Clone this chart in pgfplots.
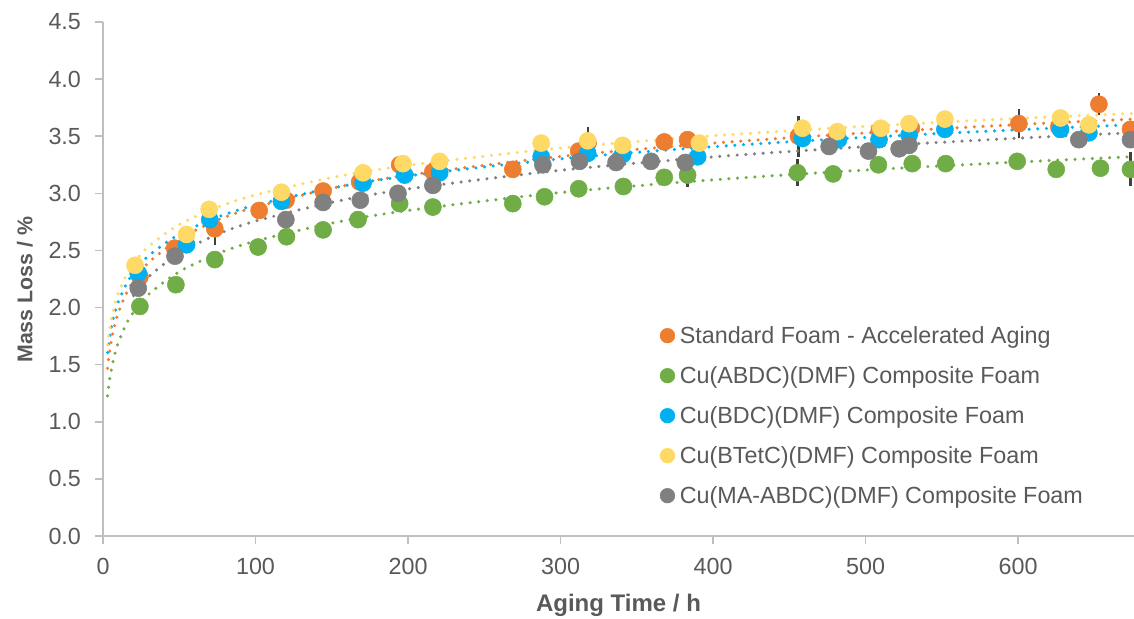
\documentclass[border=0pt]{standalone}
\usepackage{fontspec}
\setmainfont{Liberation Sans}
\usepackage{pgfplots}
\pgfplotsset{compat=1.18}
\definecolor{cOr}{HTML}{ED7D31}
\definecolor{cGr}{HTML}{70AD47}
\definecolor{cBl}{HTML}{00B0F0}
\definecolor{cYe}{HTML}{FFD966}
\definecolor{cGy}{HTML}{808080}
\definecolor{cAx}{HTML}{BFBFBF}
\definecolor{cTx}{HTML}{595959}
\definecolor{cEr}{HTML}{404040}
\begin{document}
\begin{tikzpicture}
\useasboundingbox (0,0) rectangle (850.5pt,463.5pt);
\begin{axis}[
  scale only axis, width=773.25pt, height=385.5pt,
  at={(77.25pt,61.5pt)}, anchor=south west,
  xmin=0, xmax=676, ymin=0, ymax=4.5,
  xtick={0,100,200,300,400,500,600},
  ytick={0,0.5,1,1.5,2,2.5,3,3.5,4,4.5},
  /pgf/number format/assume math mode=true,
  yticklabel style={/pgf/number format/.cd, fixed, fixed zerofill, precision=1, /tikz/.cd, xshift=-7pt},
  xticklabel style={/pgf/number format/.cd, fixed, precision=0, /tikz/.cd, yshift=-7pt},
  ticklabel style={font=\fontsize{17.5}{20}\selectfont, text=cTx},
  axis x line*=bottom, axis y line*=left,
  axis line style={draw=cAx, line width=1.5pt, -},
  tick align=outside, major tick length=6pt,
  tick style={draw=cAx, line width=1.2pt},
  xlabel={Aging Time / h}, ylabel={Mass Loss / \%},
  xlabel style={font=\fontsize{18}{21}\selectfont\bfseries, text=cTx, at={(axis description cs:0.5,-0.134)}, anchor=center},
  ylabel style={font=\fontsize{16}{19}\selectfont\bfseries, text=cTx, at={(axis description cs:-0.0757,0.479)}, anchor=center},
  legend style={draw=none, fill=none, at={(0.536,0.411)}, anchor=north west,
    font=\fontsize{17.5}{20}\selectfont, text=cTx,
    nodes={inner sep=0pt, text height=12pt, text depth=3pt},
    row sep=15pt,
    /tikz/every odd column/.append style={column sep=3.5pt}},
  legend cell align=left,
  legend image code/.code={\fill[#1] (5.5pt,1.5pt) circle (5.5pt);},
]
% error bars (drawn first)
\addplot[draw=none, forget plot, error bars/.cd, y dir=both, y explicit,
  error mark=-,
  error bar style={draw=cEr, line width=1.5pt},
  error mark options={draw=cEr, line width=1.8pt, mark size=5pt}]
  table[x=x, y=y, y error=e] {
x y e
73.3 2.69 0.08
216.3 3.19 0.03
318 3.44 0.08
456 3.50 0.12
600.5 3.61 0.07
653 3.78 0.04
673.7 3.21 0.09
383.3 3.16 0.05
455.3 3.18 0.06
};
% markers
\addplot[only marks, mark=*, mark size=6.4pt, color=cOr] table {
x y
24.2 2.27
47 2.52
73.3 2.69
102.4 2.85
120 2.94
144.3 3.02
168.3 3.10
194.5 3.25
216.3 3.19
268.7 3.21
311.9 3.37
318 3.44
368 3.45
383.3 3.47
456 3.50
481 3.50
509 3.55
530 3.57
600.5 3.61
626.7 3.58
653 3.78
673.7 3.56
};
\addlegendentry{Standard Foam - Accelerated Aging}
\addplot[only marks, mark=*, mark size=6.4pt, color=cGr] table {
x y
24.2 2.01
47.8 2.20
73.3 2.42
101.7 2.53
120.3 2.62
144.3 2.68
167.2 2.77
194.5 2.91
216.3 2.88
268.7 2.91
289.5 2.97
311.9 3.04
341.2 3.06
368 3.14
383.3 3.16
455.3 3.18
478.7 3.17
508.4 3.25
530.6 3.26
552.5 3.26
599.4 3.28
625 3.21
654 3.22
673.7 3.21
};
\addlegendentry{Cu(ABDC)(DMF) Composite Foam}
\addplot[only marks, mark=*, mark size=6.4pt, color=cBl] table {
x y
23.1 2.30
54.8 2.55
70 2.77
117 2.93
170.5 3.09
197.8 3.16
220.7 3.18
287.3 3.32
317.8 3.35
340.7 3.34
389.9 3.32
458.6 3.48
482.2 3.47
508.8 3.47
528.5 3.51
552 3.56
627.8 3.56
646.4 3.53
};
\addlegendentry{Cu(BDC)(DMF) Composite Foam}
\addplot[only marks, mark=*, mark size=6.4pt, color=cYe] table {
x y
21 2.37
54.8 2.64
69.6 2.86
117 3.01
170.5 3.18
196.7 3.26
220.7 3.28
287.3 3.44
317.8 3.46
340.7 3.42
391 3.44
458.6 3.57
481.5 3.54
510 3.57
528.5 3.61
552 3.65
627.8 3.66
646.4 3.60
};
\addlegendentry{Cu(BTetC)(DMF) Composite Foam}
\addplot[only marks, mark=*, mark size=6.4pt, color=cGy] table {
x y
23.1 2.17
47.2 2.45
119.9 2.77
144.3 2.92
168.7 2.94
193.4 3.00
216.3 3.07
288.4 3.25
312.4 3.28
336.4 3.27
359.3 3.28
381.8 3.27
476.1 3.41
501.9 3.37
522 3.39
528.5 3.42
639.8 3.47
673.7 3.47
};
\addlegendentry{Cu(MA-ABDC)(DMF) Composite Foam}
% trend lines
\pgfplotsset{trend/.style={forget plot, smooth, line width=2.6pt, line cap=round, dash pattern=on 0pt off 6.5pt}}
\addplot[trend, color=cOr] table {
x y
3 1.468
4 1.584
6 1.747
8 1.863
10 1.953
15 2.116
20 2.232
30 2.395
50 2.601
75 2.765
100 2.880
150 3.044
200 3.160
300 3.323
400 3.439
500 3.529
600 3.602
676 3.650
};
\addplot[trend, color=cGr] table {
x y
3 1.227
4 1.338
6 1.495
8 1.606
10 1.692
15 1.849
20 1.960
30 2.117
50 2.314
75 2.471
100 2.582
150 2.739
200 2.850
300 3.007
400 3.118
500 3.204
600 3.274
676 3.321
};
\addplot[trend, color=cBl] table {
x y
3 1.606
4 1.712
6 1.861
8 1.967
10 2.049
15 2.198
20 2.304
30 2.454
50 2.642
75 2.791
100 2.897
150 3.046
200 3.152
300 3.302
400 3.408
500 3.490
600 3.557
676 3.601
};
\addplot[trend, color=cYe] table {
x y
3 1.676
4 1.783
6 1.935
8 2.042
10 2.126
15 2.277
20 2.385
30 2.536
50 2.727
75 2.878
100 2.986
150 3.138
200 3.245
300 3.397
400 3.504
500 3.587
600 3.656
676 3.700
};
\addplot[trend, color=cGy] table {
x y
20 2.105
30 2.270
50 2.476
75 2.641
100 2.757
150 2.921
200 3.038
300 3.202
400 3.319
500 3.409
600 3.483
676 3.531
};
\end{axis}
\end{tikzpicture}
\end{document}
